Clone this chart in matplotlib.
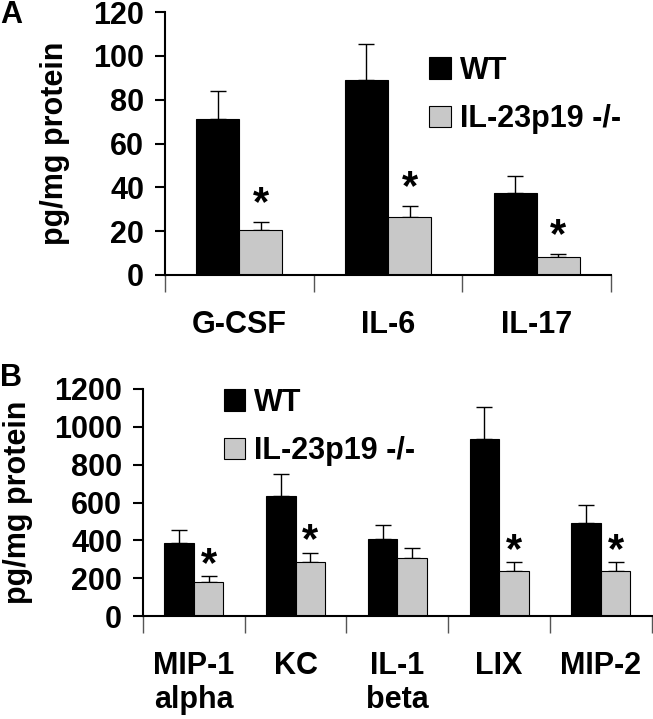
import matplotlib
matplotlib.use("Agg")
import matplotlib.pyplot as plt
import numpy as np

plt.rcParams['font.family'] = ['Liberation Sans', 'DejaVu Sans']
plt.rcParams['font.weight'] = 'bold'

# panel A
cats_a = ["G-CSF", "IL-6", "IL-17"]
wt_a = [71.4, 89.2, 37.6]
wt_a_err = [12.6, 16.3, 7.6]
ko_a = [20.6, 26.5, 8.4]
ko_a_err = [3.6, 5.0, 1.3]
star_a = [True, True, True]

# panel B
cats_b = ["MIP-1\nalpha", "KC", "IL-1\nbeta", "LIX", "MIP-2"]
wt_b = [384, 636, 405, 935, 490]
wt_b_err = [70, 117, 77, 171, 97]
ko_b = [180, 285, 309, 240, 240]
ko_b_err = [30, 49, 53, 43, 43]
star_b = [True, True, False, True, True]

GRAY = "#c8c8c8"
FS = 22


def draw_panel(ax, cats, wt, wt_err, ko, ko_err, stars, ymax, step, star_off, leg_pos):
    n = len(cats)
    x = np.arange(n) + 0.5
    w = 0.29
    ax.bar(x - w / 2, wt, w, color="black", edgecolor="black", lw=0.8, label="WT", zorder=2)
    ax.bar(x + w / 2, ko, w, color=GRAY, edgecolor="black", lw=0.8, label="IL-23p19 -/-", zorder=2)
    ax.errorbar(x - w / 2, wt, yerr=[np.zeros(n), wt_err], fmt="none", ecolor="black",
                elinewidth=1, capsize=6, capthick=1, zorder=1)
    ax.errorbar(x + w / 2, ko, yerr=[np.zeros(n), ko_err], fmt="none", ecolor="black",
                elinewidth=1, capsize=6, capthick=1, zorder=1)
    for i in range(n):
        if stars[i]:
            ax.text(x[i] + w / 2, ko[i] + ko_err[i] + star_off, "*", ha="center",
                    va="center", fontsize=FS + 8, fontweight="bold")
    ax.set_xlim(0, n)
    ax.set_ylim(0, ymax)
    ax.set_yticks(np.arange(0, ymax + 1, step))
    ax.set_xticks(np.arange(n + 1))
    ax.set_xticklabels([])
    ax.set_xticks(x, cats, minor=True)
    ax.tick_params(axis="x", which="major", direction="out", length=12, width=1, color="#555555")
    ax.tick_params(axis="x", which="minor", length=0, pad=25, labelsize=FS)
    ax.tick_params(axis="y", direction="out", length=7, width=1.5, pad=8, labelsize=FS)
    for s in ["top", "right"]:
        ax.spines[s].set_visible(False)
    ax.spines["left"].set_linewidth(1.5)
    ax.spines["bottom"].set_linewidth(1.5)
    ax.set_ylabel("pg/mg protein", fontsize=FS, fontweight="bold")
    ax.legend(loc="upper left", bbox_to_anchor=leg_pos, frameon=False, fontsize=FS,
              handlelength=0.7, handleheight=0.7, handletextpad=0.3, labelspacing=0.6,
              borderaxespad=0)


fig = plt.figure(figsize=(6.53, 7.19), dpi=100)
ax1 = fig.add_axes([0.2527, 1 - 275 / 719, 0.6830, (275 - 12) / 719])
ax2 = fig.add_axes([0.219, 1 - 616 / 719, 0.779, (616 - 389) / 719])

draw_panel(ax1, cats_a, wt_a, wt_a_err, ko_a, ko_a_err, star_a, 120, 20, 8,
           (0.565, 0.88))
draw_panel(ax2, cats_b, wt_b, wt_b_err, ko_b, ko_b_err, star_b, 1200, 200, 60,
           (0.135, 1.06))
ax1.yaxis.set_label_coords(-0.213, 0.5)
ax2.yaxis.set_label_coords(-0.216, 0.5)

fig.text(0.0, 1 - 15 / 719, "A", fontsize=FS, fontweight="bold", va="center")
fig.text(0.0, 1 - 378 / 719, "B", fontsize=FS, fontweight="bold", va="center")

fig.savefig("out.png", dpi=100)
